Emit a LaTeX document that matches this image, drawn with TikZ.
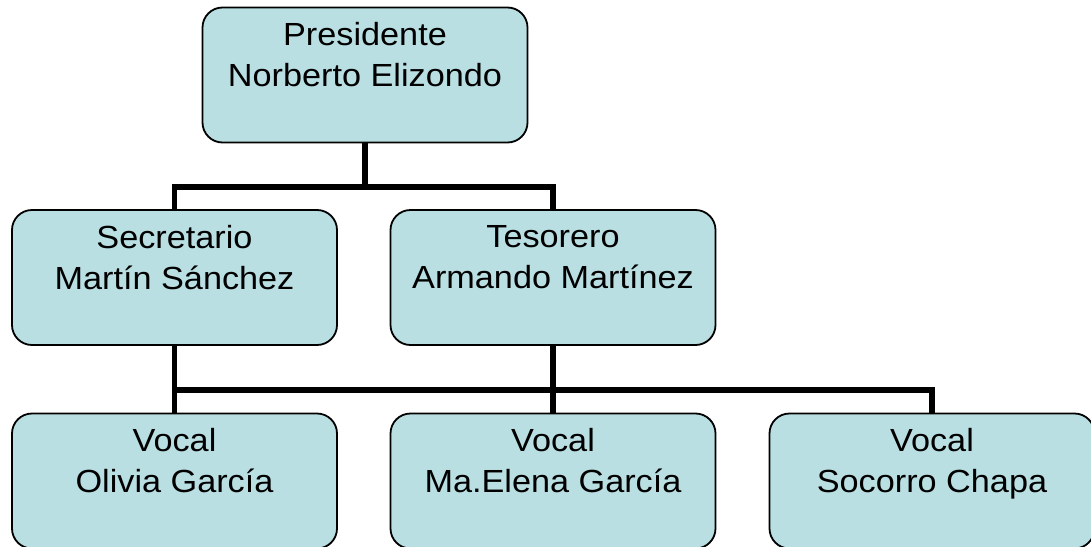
\documentclass[tikz,border=0pt]{standalone}
\usepackage{fontspec}
\setmainfont{Liberation Sans}[FakeStretch=1.07]
\definecolor{boxfill}{RGB}{185,223,227}
\tikzset{
	orgbox/.style={draw=black, line width=1.8pt, fill=boxfill, rounded corners=20pt,
		minimum width=325pt, minimum height=135pt, inner sep=0pt,
		align=center, font=\fontsize{32}{41}\selectfont},
	orgline/.style={line width=5.5pt}
}
\begin{document}
\begin{tikzpicture}[x=1pt,y=-1pt]
		\useasboundingbox (0,0) rectangle (1091,546);
		\clip (0,0) rectangle (1091,546);
		
		% Draw boxes
		\node[orgbox] (pres) at (365,75) {Presidente\\Norberto Elizondo\\\mbox{}};
		\node[orgbox] (sec) at (174.5,277.5) {Secretario\\Martín Sánchez\\\mbox{}};
		\node[orgbox] (tes) at (553,277.5) {Tesorero\\Armando Martínez\\\mbox{}};
		\node[orgbox] (v1) at (174.5,481) {Vocal\\Olivia García\\\mbox{}};
		\node[orgbox] (v2) at (553,481) {Vocal\\Ma.Elena García\\\mbox{}};
		\node[orgbox] (v3) at (932,481) {Vocal\\Socorro Chapa\\\mbox{}};
		
		% Bus levels
		\coordinate (bus1) at (365,187);
		\coordinate (bus2) at (174.5,390);
		
		% Draw connectors
		\draw[orgline] (pres.south) -- (bus1);
		\draw[orgline] (sec.north) -- (sec.north |- bus1) -- (tes.north |- bus1) -- (tes.north);
		\draw[orgline] (sec.south) -- (v1.north);
		\draw[orgline] (tes.south) -- (v2.north);
		\draw[orgline] (bus2) -- (v3.north |- bus2) -- (v3.north);
	\end{tikzpicture}
\end{document}
